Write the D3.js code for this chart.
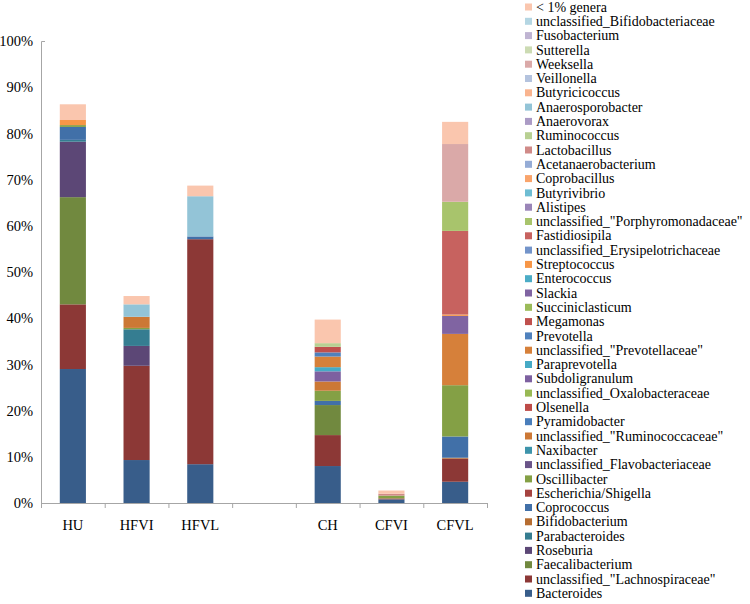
<!DOCTYPE html>
<html>
<head>
<meta charset="utf-8">
<script src="https://cdn.jsdelivr.net/npm/d3@7/dist/d3.min.js"></script>
<style>
  body { margin: 0; background: #fff; }
  text { font-family: "Liberation Serif", "Times New Roman", serif; }
</style>
</head>
<body>
<svg id="chart" width="750" height="604"></svg>
<script>
// genera, bottom of the stack first (legend shows them reversed)
const genera = [
  "Bacteroides", "unclassified_\"Lachnospiraceae\"", "Faecalibacterium", "Roseburia",
  "Parabacteroides", "Bifidobacterium", "Coprococcus", "Escherichia/Shigella",
  "Oscillibacter", "unclassified_Flavobacteriaceae", "Naxibacter", "unclassified_\"Ruminococcaceae\"",
  "Pyramidobacter", "Olsenella", "unclassified_Oxalobacteraceae", "Subdoligranulum",
  "Paraprevotella", "unclassified_\"Prevotellaceae\"", "Prevotella", "Megamonas",
  "Succiniclasticum", "Slackia", "Enterococcus", "Streptococcus",
  "unclassified_Erysipelotrichaceae", "Fastidiosipila", "unclassified_\"Porphyromonadaceae\"", "Alistipes",
  "Butyrivibrio", "Coprobacillus", "Acetanaerobacterium", "Lactobacillus",
  "Ruminococcus", "Anaerovorax", "Anaerosporobacter", "Butyricicoccus",
  "Veillonella", "Weeksella", "Sutterella", "Fusobacterium",
  "unclassified_Bifidobacteriaceae", "< 1% genera"
];

const categories = ["HU", "HFVI", "HFVL", "", "CH", "CFVI", "CFVL"];
const yTicks = [0, 10, 20, 30, 40, 50, 60, 70, 80, 90, 100];

// relative abundance (%) per sample
const HU = [
  ["Bacteroides", 29.0], ["unclassified_\"Lachnospiraceae\"", 14.0], ["Faecalibacterium", 23.2],
  ["Roseburia", 12.0], ["Parabacteroides", 0.4], ["Coprococcus", 2.8], ["Oscillibacter", 0.4],
  ["Streptococcus", 1.1], ["< 1% genera", 3.4]
];
const HFVI = [
  ["Bacteroides", 9.3], ["unclassified_\"Lachnospiraceae\"", 20.4], ["Roseburia", 4.3],
  ["Parabacteroides", 3.6], ["Oscillibacter", 0.3], ["unclassified_\"Ruminococcaceae\"", 2.4],
  ["Anaerosporobacter", 2.7], ["< 1% genera", 1.8]
];
const HFVL = [
  ["Bacteroides", 8.4], ["unclassified_\"Lachnospiraceae\"", 48.7], ["Coprococcus", 0.6],
  ["Anaerosporobacter", 8.7], ["< 1% genera", 2.3]
];
const CH = [
  ["Bacteroides", 8.0], ["unclassified_\"Lachnospiraceae\"", 6.7], ["Faecalibacterium", 6.5],
  ["Coprococcus", 0.9], ["Oscillibacter", 2.2], ["unclassified_\"Ruminococcaceae\"", 2.0],
  ["Subdoligranulum", 2.2], ["Paraprevotella", 0.9], ["unclassified_\"Prevotellaceae\"", 2.3],
  ["Prevotella", 0.9], ["Megamonas", 1.2], ["Ruminococcus", 0.8], ["< 1% genera", 5.1]
];
const CFVI = [
  ["Bacteroides", 0.8], ["Escherichia/Shigella", 0.2], ["Oscillibacter", 0.6],
  ["Lactobacillus", 0.4], ["< 1% genera", 0.7]
];
const CFVL = [
  ["Bacteroides", 4.6], ["unclassified_\"Lachnospiraceae\"", 5.0], ["Bifidobacterium", 0.2],
  ["Coprococcus", 4.6], ["Oscillibacter", 11.1], ["unclassified_\"Prevotellaceae\"", 11.1],
  ["Slackia", 3.9], ["Streptococcus", 0.3], ["Fastidiosipila", 18.1],
  ["unclassified_\"Porphyromonadaceae\"", 6.3], ["Weeksella", 12.5], ["< 1% genera", 4.8]
];
const samples = [HU, HFVI, HFVL, [], CH, CFVI, CFVL];

// Excel-like palette: 6 hues, 7 shades (dark -> light)
const shades = [
  ["#385D8A", "#4170A8", "#4A7EBB", "#4F81BD", "#7394CA", "#95ACD6", "#B4C3DE"],
  ["#8C3836", "#A54340", "#BE4B48", "#C0504D", "#C7625F", "#D08A88", "#DAA9A8"],
  ["#71893F", "#84A045", "#98B954", "#9BBB59", "#A8C46C", "#B8D092", "#CCDBB3"],
  ["#5C4776", "#6A5489", "#7D60A0", "#8064A2", "#9A85B8", "#AB9BC5", "#BFB4D2"],
  ["#357D91", "#3D94AB", "#46AAC5", "#4BACC6", "#6EBDD3", "#93C4D7", "#B4D6E3"],
  ["#B66D31", "#CC7835", "#D6803A", "#F79646", "#F9A46B", "#F9B48F", "#FAC6AE"]
];
const color = d3.scaleOrdinal()
  .domain(genera)
  .range(genera.map((g, i) => shades[i % 6][Math.floor(i / 6)]));

// build the wide table for d3.stack
const table = samples.map((s, i) => {
  const row = {idx: i};
  genera.forEach(g => row[g] = 0);
  s.forEach(([g, v]) => row[g] = v);
  return row;
});
const series = d3.stack().keys(genera)(table);

const svg = d3.select("#chart");
const plotLeft = 41, plotRight = 487, plotTop = 41, plotBottom = 503;

const x = d3.scaleBand()
  .domain(d3.range(categories.length))
  .range([plotLeft, plotRight])
  .paddingInner(0.59)
  .paddingOuter(0.295);

const y = d3.scaleLinear()
  .domain([0, 100])
  .range([plotBottom, plotTop]);

// bars
svg.append("g")
  .selectAll("g")
  .data(series)
  .join("g")
  .attr("fill", d => color(d.key))
  .selectAll("rect")
  .data(d => d.filter(p => p[1] - p[0] > 0))
  .join("rect")
  .attr("x", d => x(d.data.idx))
  .attr("width", x.bandwidth())
  .attr("y", d => y(d[1]))
  .attr("height", d => y(d[0]) - y(d[1]));

// Y axis
const yAxis = svg.append("g")
  .attr("transform", `translate(${plotLeft},0)`)
  .call(d3.axisLeft(y)
    .tickValues(yTicks)
    .tickFormat(d => d + "%")
    .tickSizeInner(0)
    .tickSizeOuter(-4)
    .tickPadding(8));
yAxis.select(".domain").attr("stroke", "#a6a6a6");
yAxis.selectAll("text").attr("font-size", "14.5px").attr("fill", "#000")
  .style("font-family", "'Liberation Serif', serif");

// X axis: tick marks between categories
const edges = d3.range(categories.length + 1).map(k => plotLeft + k * x.step());
const xEdge = d3.scaleLinear().domain([plotLeft, plotRight]).range([plotLeft, plotRight]);
const xAxis = svg.append("g")
  .attr("transform", `translate(0,${plotBottom})`)
  .call(d3.axisBottom(xEdge).tickValues(edges).tickFormat("").tickSizeInner(5).tickSizeOuter(0));
xAxis.select(".domain").attr("stroke", "#a6a6a6");
xAxis.selectAll(".tick line").attr("stroke", "#a6a6a6");

svg.append("g")
  .selectAll("text")
  .data(categories)
  .join("text")
  .attr("x", (d, i) => x(i) + x.bandwidth() / 2)
  .attr("y", 530)
  .attr("text-anchor", "middle")
  .attr("font-size", "14.5px")
  .text(d => d);

// legend, top entry = last series
const legend = svg.append("g")
  .selectAll("g")
  .data(genera.slice().reverse())
  .join("g")
  .attr("transform", (d, j) => `translate(525,${7 + j * 14.3})`);
legend.append("rect")
  .attr("y", -3.5)
  .attr("width", 7)
  .attr("height", 7)
  .attr("fill", d => color(d));
legend.append("text")
  .attr("x", 11)
  .attr("dy", "0.33em")
  .attr("font-size", "14px")
  .text(d => d);
</script>
</body>
</html>
